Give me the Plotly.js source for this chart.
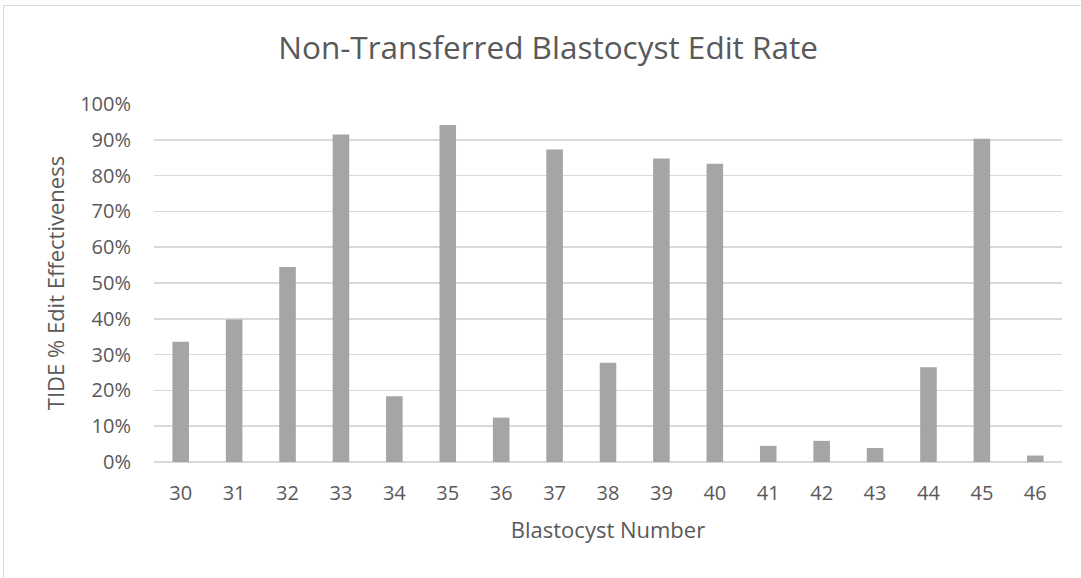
<!DOCTYPE html>
<html>
<head>
<meta charset="utf-8">
<script src="https://cdn.plot.ly/plotly-3.0.1.min.js"></script>
<style>
html,body{margin:0;padding:0;background:#fff;overflow:hidden;}
#wrap{position:relative;width:1081px;height:578px;}
#chart{width:1081px;height:578px;}
#frame{position:absolute;left:3px;top:5px;width:1100px;height:600px;border:1.5px solid #d9d9d9;pointer-events:none;}
</style>
</head>
<body>
<div id="wrap"><div id="chart"></div><div id="frame"></div></div>
<script>
var categories = ["30","31","32","33","34","35","36","37","38","39","40","41","42","43","44","45","46"];
var editRate = [0.336,0.398,0.545,0.915,0.184,0.941,0.124,0.873,0.277,0.848,0.833,0.045,0.059,0.039,0.265,0.903,0.018];
var yTicks = [0,0.1,0.2,0.3,0.4,0.5,0.6,0.7,0.8,0.9,1.0];

var trace = {
  type: 'bar',
  x: categories,
  y: editRate,
  marker: {color: '#a5a5a5'},
  hoverinfo: 'x+y'
};

var font = '"Open Sans", Lato, sans-serif';
var layout = {
  width: 1081, height: 578,
  margin: {l: 154, r: 19, t: 104, b: 116},
  paper_bgcolor: '#ffffff',
  plot_bgcolor: '#ffffff',
  showlegend: false,
  bargap: 0.69,
  font: {family: font, color: '#595959', size: 20},
  title: {text: 'Non-Transferred Blastocyst Edit Rate', x: 0.507, xanchor: 'center', y: 0.917, yanchor: 'middle', font: {family: font, size: 31.5, color: '#595959'}},
  xaxis: {
    type: 'category',
    showgrid: false,
    showline: false,
    zeroline: false,
    ticks: '',
    ticklabelstandoff: 17,
    tickfont: {size: 20, color: '#595959'},
    title: {text: 'Blastocyst Number', font: {size: 22, color: '#595959'}, standoff: 17}
  },
  yaxis: {
    range: [0, 1],
    tickvals: yTicks,
    tickformat: '.0%',
    showgrid: true,
    gridcolor: '#d9d9d9',
    gridwidth: 1.5,
    zeroline: true,
    zerolinecolor: '#d9d9d9',
    zerolinewidth: 1.5,
    showline: false,
    ticks: '',
    ticklabelstandoff: 22,
    tickfont: {size: 20, color: '#595959'},
    title: {text: 'TIDE % Edit Effectiveness', font: {size: 22, color: '#595959'}, standoff: 9}
  }
};

Plotly.newPlot('chart', [trace], layout, {displayModeBar: false, staticPlot: true});
</script>
</body>
</html>
